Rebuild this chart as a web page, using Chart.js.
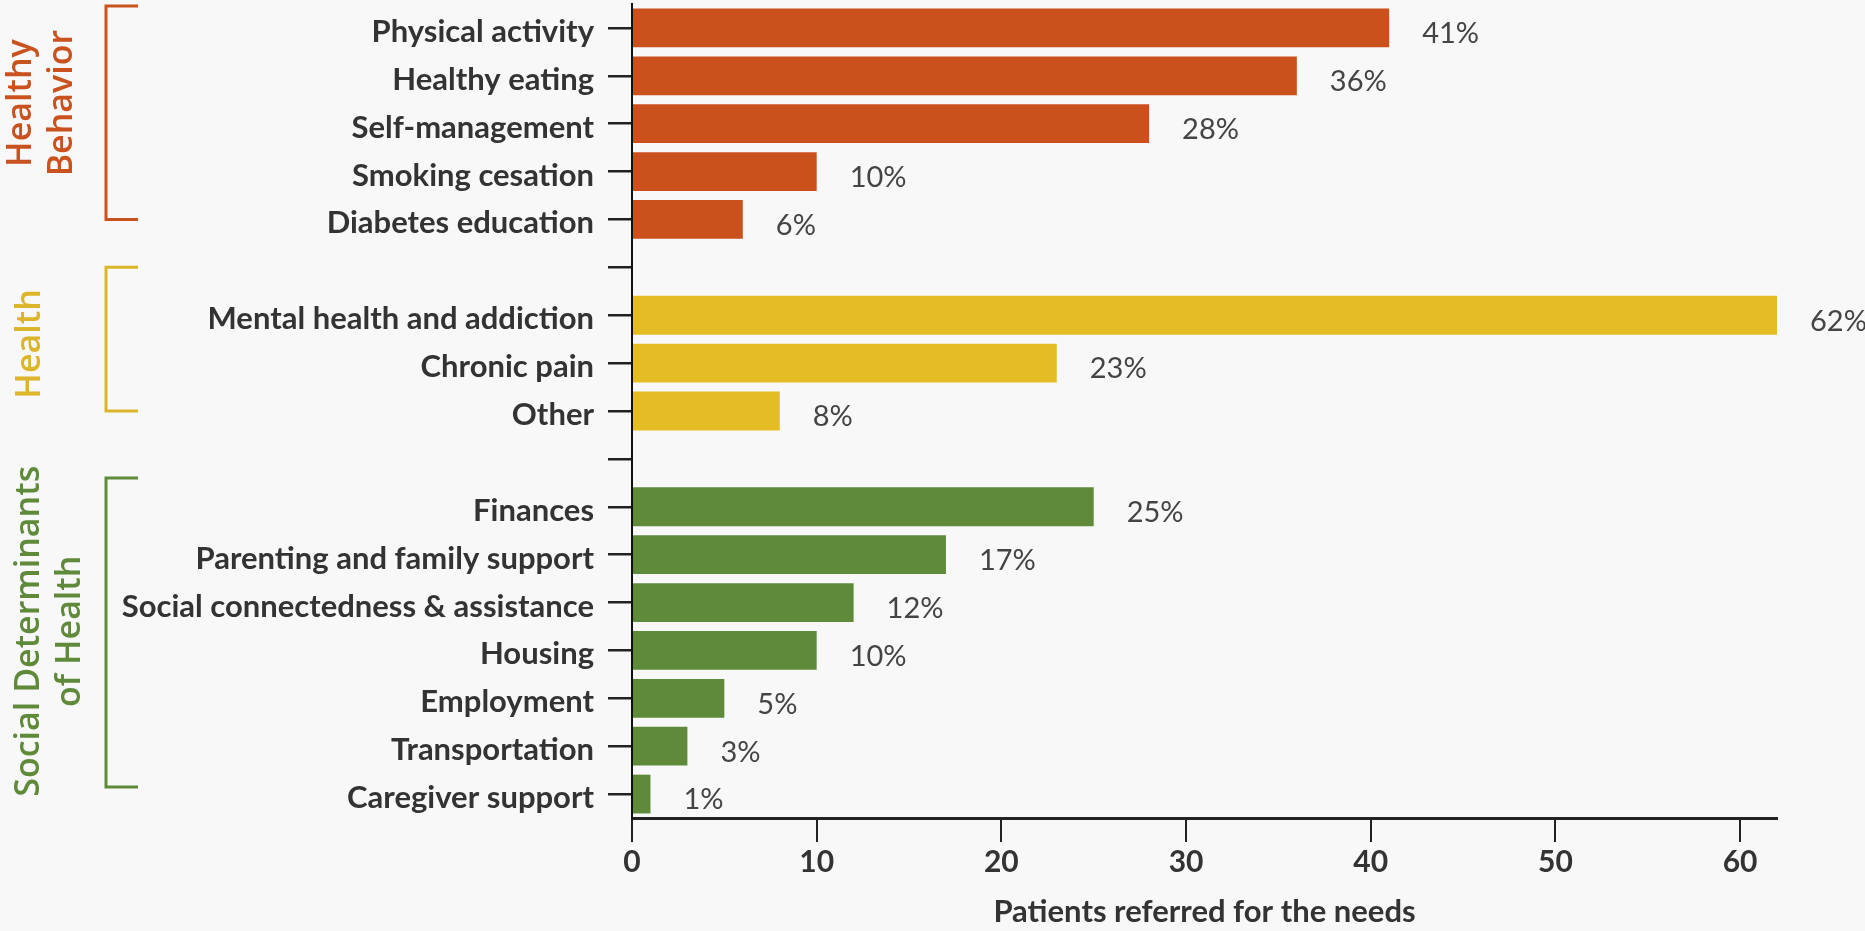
<!DOCTYPE html>
<html>
<head>
<meta charset="utf-8">
<title>Patients referred for the needs</title>
<script src="https://cdn.jsdelivr.net/npm/chart.js@4.4.1/dist/chart.umd.min.js"></script>
<style>
  html, body { margin: 0; padding: 0; background: #f8f8f8; }
  canvas { display: block; }
</style>
</head>
<body>
<canvas id="needsChart" width="1865" height="931"></canvas>
<script>
// categories (blank entries are the gaps between groups)
const needs = [
  'Physical activity', 'Healthy eating', 'Self-management', 'Smoking cesation', 'Diabetes education',
  '',
  'Mental health and addiction', 'Chronic pain', 'Other',
  '',
  'Finances', 'Parenting and family support', 'Social connectedness & assistance', 'Housing',
  'Employment', 'Transportation', 'Caregiver support'
];
const percents = [41, 36, 28, 10, 6, null, 62, 23, 8, null, 25, 17, 12, 10, 5, 3, 1];
const needGroup = ['hb', 'hb', 'hb', 'hb', 'hb', '', 'h', 'h', 'h', '', 'sd', 'sd', 'sd', 'sd', 'sd', 'sd', 'sd'];
const xTicks = [0, 10, 20, 30, 40, 50, 60];
const xMax = 62;

const groupColors = { hb: '#ca501c', h: '#e4bc24', sd: '#5e8a3a' };
const groupTextColors = { hb: '#c9521f', h: '#dcb52a', sd: '#5e8a3a' };

// bracket spans and label centres in category units
const groups = [
  { key: 'hb', lines: ['Healthy', 'Behavior'], from: -0.46, to: 4, mid: 1.57, cx: 42 },
  { key: 'h', lines: ['Health'], from: 5, to: 8, mid: 6.6, cx: 30 },
  { key: 'sd', lines: ['Social Determinants', 'of Health'], from: 9.4, to: 15.85, mid: 12.6, cx: 50 }
];

const groupPlugin = {
  id: 'groupBrackets',
  afterDraw(chart) {
    const ctx = chart.ctx;
    const y = chart.scales.y;
    const p0 = y.getPixelForValue(0);
    const step = y.getPixelForValue(1) - p0;
    const at = v => p0 + v * step;
    ctx.save();
    groups.forEach(g => {
      const col = groupTextColors[g.key];
      // bracket
      ctx.strokeStyle = col;
      ctx.lineWidth = 3;
      ctx.beginPath();
      ctx.moveTo(138, at(g.from));
      ctx.lineTo(106, at(g.from));
      ctx.lineTo(106, at(g.to));
      ctx.lineTo(138, at(g.to));
      ctx.stroke();
      // rotated label
      ctx.fillStyle = col;
      ctx.font = '600 34px "Open Sans"';
      ctx.textAlign = 'center';
      ctx.textBaseline = 'middle';
      ctx.save();
      ctx.translate(g.cx, at(g.mid));
      ctx.rotate(-Math.PI / 2);
      g.lines.forEach((line, i) => {
        const off = (i - (g.lines.length - 1) / 2) * 41;
        ctx.fillText(line, 0, off);
      });
      ctx.restore();
    });
    ctx.restore();
  }
};

const valueLabels = {
  id: 'valueLabels',
  afterDatasetsDraw(chart) {
    const ctx = chart.ctx;
    const meta = chart.getDatasetMeta(0);
    ctx.save();
    ctx.fillStyle = '#444';
    ctx.font = '29px Lato';
    ctx.textAlign = 'left';
    ctx.textBaseline = 'middle';
    meta.data.forEach((bar, i) => {
      const v = percents[i];
      if (v == null) return;
      ctx.fillText(v + '%', bar.x + 33, bar.y + 6);
    });
    ctx.restore();
  }
};

const ctx = document.getElementById('needsChart').getContext('2d');
const needsChart = new Chart(ctx, {
  type: 'bar',
  data: {
    labels: needs,
    datasets: [{
      data: percents,
      backgroundColor: needGroup.map(k => groupColors[k] || 'transparent'),
      borderWidth: 0,
      barPercentage: 0.81,
      categoryPercentage: 1
    }]
  },
  options: {
    indexAxis: 'y',
    responsive: false,
    animation: false,
    layout: { padding: { top: 4, right: 88, left: 0, bottom: 0 } },
    plugins: {
      legend: { display: false },
      tooltip: { enabled: false }
    },
    scales: {
      x: {
        min: 0,
        max: xMax,
        afterFit(scale) {
          scale.height = 113;
          scale.paddingLeft = 0;
          scale.paddingRight = 0;
        },
        afterBuildTicks(scale) { scale.ticks = xTicks.map(v => ({ value: v })); },
        grid: { drawOnChartArea: false, tickLength: 24, color: '#222', lineWidth: 2 },
        border: { display: true, color: '#222', width: 3 },
        ticks: { padding: 2, color: '#333', font: { family: 'Lato', size: 30, weight: 'bold' } },
        title: {
          display: true,
          text: 'Patients referred for the needs',
          color: '#333',
          font: { family: 'Lato', size: 31, weight: 'bold' },
          padding: { top: 0, bottom: 0 }
        }
      },
      y: {
        afterFit(scale) {
          scale.width = 632;
          scale.paddingTop = 0;
          scale.paddingBottom = 0;
        },
        grid: { drawOnChartArea: false, offset: false, tickLength: 24, color: '#222', lineWidth: 2.5 },
        border: { display: true, color: '#111', width: 2 },
        ticks: { padding: 14, labelOffset: 4, color: '#333', autoSkip: false, font: { family: 'Lato', size: 31, weight: 'bold' } }
      }
    }
  },
  plugins: [groupPlugin, valueLabels]
});
</script>
</body>
</html>
